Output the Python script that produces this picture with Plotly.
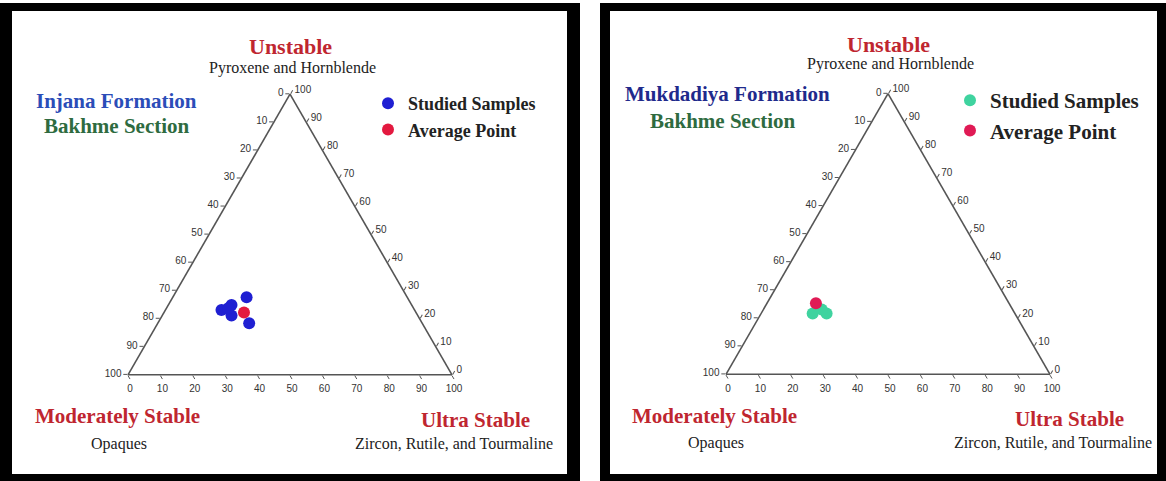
import plotly.graph_objects as go

W, H = 1166, 481

# ---------------- data (percent) ----------------
# a = Unstable (Pyroxene and Hornblende), b = Moderately Stable (Opaques),
# c = Ultra Stable (Zircon, Rutile, and Tourmaline)
tick_vals = [0, 10, 20, 30, 40, 50, 60, 70, 80, 90, 100]
tick_labels = [str(100 - v) for v in tick_vals]

injana_unstable = [27.6, 24.9, 23.1, 21.1, 18.4, 23.7]
injana_opaques = [49.6, 55.6, 59.6, 57.5, 53.4, 57.2]
injana_ultra = [22.8, 19.5, 17.3, 21.4, 28.2, 19.1]
injana_avg_unstable = [22.2]
injana_avg_opaques = [53.1]
injana_avg_ultra = [24.7]

mukdadiya_unstable = [21.7, 21.7, 23.1]
mukdadiya_opaques = [62.4, 58.1, 58.9]
mukdadiya_ultra = [15.9, 20.2, 18.0]
mukdadiya_avg_unstable = [25.3]
mukdadiya_avg_opaques = [59.6]
mukdadiya_avg_ultra = [15.1]

SERIF = "Liberation Serif, Times New Roman, serif"
SANS = "Liberation Sans, Arial, sans-serif"


def X(x):
    return x / W


def Y(y):
    return 1 - y / H


fig = go.Figure()

fig.add_trace(go.Scatterternary(
    a=injana_unstable, b=injana_opaques, c=injana_ultra, mode="markers",
    name="Studied Samples", subplot="ternary", legend="legend", legendgroup="s1",
    marker=dict(size=12, color="#1f1fd2"), cliponaxis=False))
fig.add_trace(go.Scatterternary(
    a=injana_avg_unstable, b=injana_avg_opaques, c=injana_avg_ultra, mode="markers",
    name="Average Point", subplot="ternary", legend="legend", legendgroup="a1",
    marker=dict(size=12, color="#e3193f"), cliponaxis=False))
fig.add_trace(go.Scatterternary(
    a=mukdadiya_unstable, b=mukdadiya_opaques, c=mukdadiya_ultra, mode="markers",
    name="Studied Samples", subplot="ternary2", legend="legend2", legendgroup="s2",
    marker=dict(size=12, color="#3fd39f"), cliponaxis=False))
fig.add_trace(go.Scatterternary(
    a=mukdadiya_avg_unstable, b=mukdadiya_avg_opaques, c=mukdadiya_avg_ultra, mode="markers",
    name="Average Point", subplot="ternary2", legend="legend2", legendgroup="a2",
    marker=dict(size=12, color="#e01a55"), cliponaxis=False))


def axis():
    return dict(
        title=dict(text=""), min=0, tickmode="array", tickvals=tick_vals,
        ticktext=tick_labels, ticks="outside", ticklen=4, tickwidth=1,
        tickcolor="#555", linecolor="#555", linewidth=1.6, showgrid=False,
        tickfont=dict(family=SANS, size=10, color="#333"), showline=True,
    )


def tern(x0, x1, y_top, y_bot):
    return dict(
        sum=100, bgcolor="rgba(0,0,0,0)",
        domain=dict(x=[X(x0), X(x1)], y=[Y(y_bot), Y(y_top)]),
        aaxis=axis(), baxis=axis(), caxis=axis(),
    )


shapes = []
for (ox0, ox1, ix0, ix1) in [(0, 580, 12, 567), (600, 1166, 610, 1157)]:
    shapes.append(dict(type="rect", xref="paper", yref="paper", layer="below",
                       x0=X(ox0), x1=X(ox1), y0=Y(481), y1=Y(3),
                       fillcolor="black", line=dict(width=0)))
    shapes.append(dict(type="rect", xref="paper", yref="paper", layer="below",
                       x0=X(ix0), x1=X(ix1), y0=Y(474), y1=Y(11),
                       fillcolor="white", line=dict(width=0)))

RED = "#bf2630"
annotations = []


def text(x, y, s, size, color, bold=False, xanchor="center"):
    annotations.append(dict(
        x=X(x), y=Y(y), xref="paper", yref="paper", showarrow=False,
        text=f"<b>{s}</b>" if bold else s, xanchor=xanchor, yanchor="middle",
        font=dict(family=SERIF, size=size, color=color)))


# left panel texts
text(290, 46, "Unstable", 22, RED, True)
text(292, 68, "Pyroxene and Hornblende", 16, "#222")
text(34, 101, "Injana Formation", 21, "#2b4db8", True, "left")
text(42, 126, "Bakhme Section", 21, "#2e6b40", True, "left")
text(33, 416, "Moderately Stable", 21, RED, True, "left")
text(119, 444, "Opaques", 16, "#222")
text(475, 420, "Ultra Stable", 21, RED, True)
text(454, 443, "Zircon, Rutile, and Tourmaline", 16, "#222")

# right panel texts
text(888, 44, "Unstable", 22, RED, True)
text(890, 64, "Pyroxene and Hornblende", 16, "#222")
text(623, 94, "Mukdadiya Formation", 21, "#1f2a8c", True, "left")
text(648, 121, "Bakhme Section", 21, "#2e6b40", True, "left")
text(630, 416, "Moderately Stable", 21, RED, True, "left")
text(716, 443, "Opaques", 16, "#222")
text(1069, 419, "Ultra Stable", 21, RED, True)
text(1053, 442, "Zircon, Rutile, and Tourmaline", 16, "#222")

fig.update_layout(
    width=W, height=H, margin=dict(l=0, r=0, t=0, b=0),
    paper_bgcolor="white", plot_bgcolor="white",
    ternary=tern(128, 452, 94, 375),
    ternary2=tern(726, 1050, 93, 375),
    shapes=shapes, annotations=annotations,
    legend=dict(x=X(368), y=Y(85), xanchor="left", yanchor="top",
                bgcolor="rgba(0,0,0,0)", tracegroupgap=0,
                font=dict(family=SERIF, size=18, color="#222", weight="bold")),
    legend2=dict(x=X(950), y=Y(80), xanchor="left", yanchor="top",
                 bgcolor="rgba(0,0,0,0)", tracegroupgap=0,
                 font=dict(family=SERIF, size=21, color="#222", weight="bold")),
)

fig.write_html("out.html", config={"displayModeBar": False},
               post_script="document.body.style.margin='0';document.body.style.padding='0';")
